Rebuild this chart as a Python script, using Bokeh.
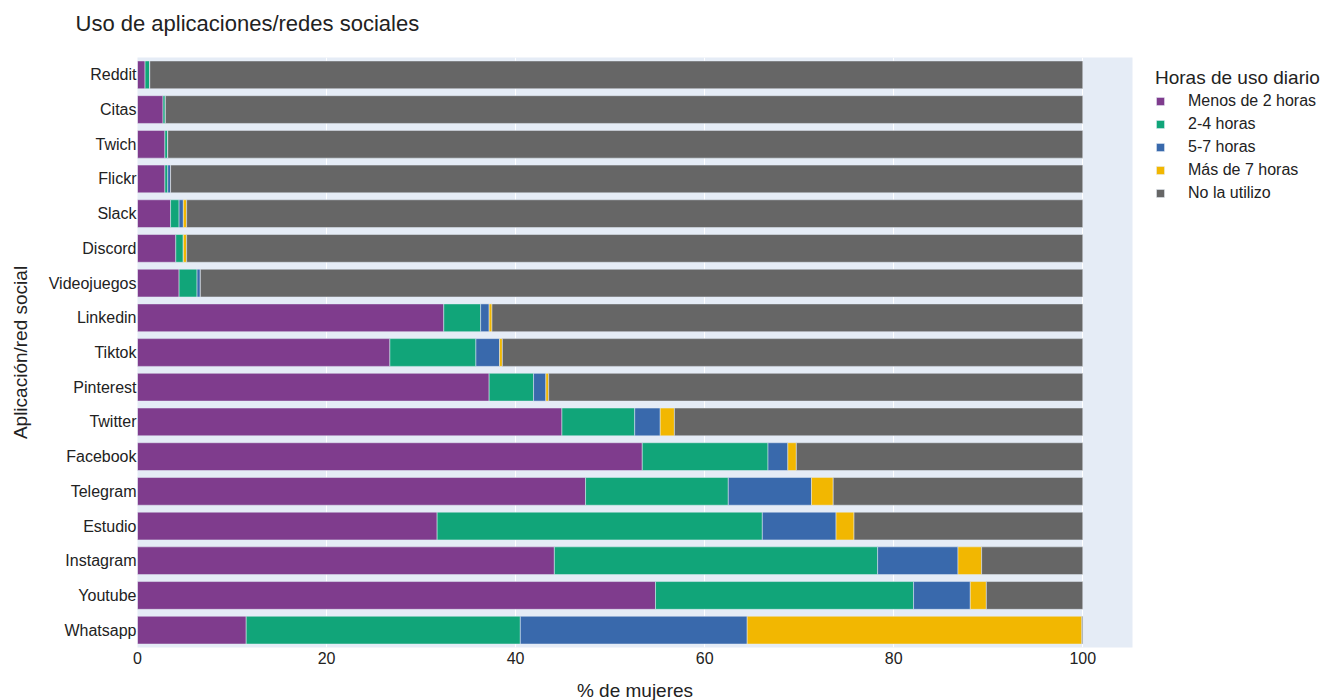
from bokeh.plotting import figure
from bokeh.models import ColumnDataSource, FactorRange, Range1d, Legend, LegendItem, FixedTicker, Title
from bokeh.embed import file_html
from bokeh.resources import INLINE

apps = ["Whatsapp", "Youtube", "Instagram", "Estudio", "Telegram", "Facebook", "Twitter",
        "Pinterest", "Tiktok", "Linkedin", "Videojuegos", "Discord", "Slack", "Flickr",
        "Twich", "Citas", "Reddit"]
menos_2 = [11.5, 54.8, 44.1, 31.7, 47.4, 53.4, 44.9, 37.2, 26.7, 32.4, 4.4, 4.05, 3.5, 2.9, 2.9, 2.7, 0.8]
h2_4 = [29.0, 27.3, 34.2, 34.4, 15.1, 13.3, 7.7, 4.7, 9.1, 3.9, 1.9, 0.8, 0.9, 0.3, 0.3, 0.25, 0.5]
h5_7 = [24.0, 6.0, 8.5, 7.8, 8.8, 2.1, 2.7, 1.3, 2.5, 0.9, 0.35, 0.0, 0.45, 0.3, 0.0, 0.0, 0.0]
mas_7 = [35.4, 1.7, 2.5, 1.9, 2.3, 0.9, 1.5, 0.3, 0.3, 0.3, 0.0, 0.35, 0.35, 0.0, 0.0, 0.0, 0.0]
no_uso = [0.1, 10.2, 10.7, 24.2, 26.4, 30.3, 43.2, 56.5, 61.4, 62.5, 93.35, 94.8, 94.8, 96.5, 96.8, 97.05, 98.7]

series_keys = ["menos_2", "h2_4", "h5_7", "mas_7", "no_uso"]
series_labels = ["Menos de 2 horas", "2-4 horas", "5-7 horas", "Más de 7 horas", "No la utilizo"]
colors = ["#7F3C8D", "#11A579", "#3969AC", "#F2B701", "#666666"]
x_ticks = [0, 20, 40, 60, 80, 100]

source = ColumnDataSource(dict(app=apps, menos_2=menos_2, h2_4=h2_4, h5_7=h5_7,
                               mas_7=mas_7, no_uso=no_uso))

FONT = "Liberation Sans"
TXT = "#222222"

p = figure(y_range=FactorRange(*apps, range_padding=0), x_range=Range1d(0, 105.26),
           frame_width=995, frame_height=590,
           min_border_left=137, min_border_top=57, min_border_right=140, min_border_bottom=40,
           output_backend="svg", toolbar_location=None,
           background_fill_color="#E5ECF6", border_fill_color="white",
           title="Uso de aplicaciones/redes sociales")
p.outline_line_color = None

renderers = p.hbar_stack(series_keys, y="app", height=0.8, color=colors, source=source,
                         line_color="#E5ECF6", line_width=0.5)

p.title.text_font = FONT
p.title.text_font_size = "22px"
p.title.text_font_style = "normal"
p.title.text_color = TXT
p.title.align = "left"
p.title.offset = -62
p.title.standoff = 0

# blank spacer between the title and the plot area
spacer = Title(text=" ", text_font=FONT, text_font_size="16px", standoff=3)
p.add_layout(spacer, "above")

p.xaxis.ticker = FixedTicker(ticks=x_ticks)
p.xaxis.axis_label = "% de mujeres"
p.yaxis.axis_label = "Aplicación/red social"
for ax in (p.xaxis[0], p.yaxis[0]):
    ax.axis_line_color = None
    ax.major_tick_line_color = None
    ax.minor_tick_line_color = None
    ax.major_tick_in = 0
    ax.major_tick_out = 0
    ax.minor_tick_in = 0
    ax.minor_tick_out = 0
    ax.major_label_text_font = FONT
    ax.major_label_text_font_size = "16px"
    ax.major_label_text_color = TXT
    ax.axis_label_text_font = FONT
    ax.axis_label_text_font_size = "19px"
    ax.axis_label_text_font_style = "normal"
    ax.axis_label_text_color = TXT
p.xaxis.major_label_standoff = 4
p.xaxis.axis_label_standoff = 13
p.yaxis.major_label_standoff = 1
p.yaxis.axis_label_standoff = 15

p.xgrid.grid_line_color = "white"
p.xgrid.grid_line_width = 1
p.ygrid.grid_line_color = None

legend = Legend(items=[LegendItem(label=l, renderers=[r]) for l, r in zip(series_labels, renderers)],
                title="Horas de uso diario", location=(23, 444))
legend.title_text_font = FONT
legend.title_text_font_size = "19px"
legend.title_text_font_style = "normal"
legend.title_text_color = TXT
legend.title_standoff = 2
legend.label_text_font = FONT
legend.label_text_font_size = "16px"
legend.label_text_color = TXT
legend.glyph_width = 10
legend.glyph_height = 10
legend.label_standoff = 23
legend.label_height = 20
legend.spacing = 3
legend.padding = 0
legend.margin = 25
legend.border_line_color = None
legend.background_fill_alpha = 0
legend.click_policy = "none"
p.add_layout(legend, "right")

open("out.html", "w").write(file_html(p, INLINE))
